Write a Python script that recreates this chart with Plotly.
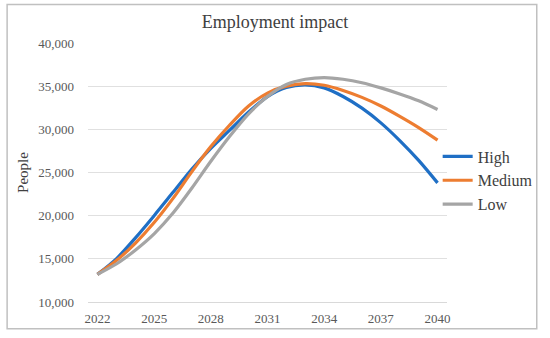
import plotly.graph_objects as go

years = list(range(2022, 2041))
high = [13200, 15000, 17400, 20000, 22700, 25400, 27800, 29900, 32000, 33800,
        34850, 35150, 34800, 33800, 32450, 30750, 28700, 26400, 23800]
medium = [13200, 14800, 16800, 19200, 22000, 25100, 28000, 30500, 32700, 34200,
          35000, 35300, 35100, 34500, 33700, 32700, 31500, 30200, 28750]
low = [13200, 14400, 16000, 17900, 20300, 23200, 26300, 29200, 31800, 33800,
       35200, 35800, 36000, 35800, 35400, 34800, 34100, 33300, 32300]
tick_years = [2022, 2025, 2028, 2031, 2034, 2037, 2040]
series = [("High", high, "#1f6fc5"), ("Medium", medium, "#ed7d31"), ("Low", low, "#a5a5a5")]

fig = go.Figure()
for name, vals, color in series:
    fig.add_trace(go.Scatter(x=years, y=vals, name=name, mode="lines",
                             line=dict(color=color, width=3.2, shape="spline", smoothing=0.8)))

font = "Liberation Serif"
fig.update_layout(
    width=550, height=338,
    margin=dict(l=88, r=98, t=43, b=33),
    paper_bgcolor="white", plot_bgcolor="white",
    font=dict(family=font, color="#595959", size=12),
    title=dict(text="Employment impact", x=0.5, xref="container", y=0.935, yref="container",
               yanchor="middle", xanchor="center",
               font=dict(family=font, size=18, color="#404040")),
    xaxis=dict(range=[2021.5, 2040.5], tickvals=tick_years, showgrid=False,
               showline=True, linecolor="#d9d9d9", ticks="", zeroline=False,
               ticklabelstandoff=4,
               tickfont=dict(family=font, size=13, color="#595959")),
    yaxis=dict(range=[10000, 40000], dtick=5000, tickformat=",", showgrid=True,
               gridcolor="#e0e0e0", zeroline=False, showline=False, ticks="",
               ticklabelstandoff=13,
               title=dict(text="People", font=dict(family=font, size=15, color="#404040"), standoff=6),
               tickfont=dict(family=font, size=13, color="#595959")),
    legend=dict(x=0.974, y=0.469, yanchor="middle", xanchor="left",
                font=dict(family=font, size=16, color="#404040"), tracegroupgap=0,
                itemwidth=30, bgcolor="rgba(0,0,0,0)"),
    shapes=[dict(type="rect", xref="paper", yref="paper", x0=-0.2253, x1=1.25,
                 y0=-0.103, y1=1.1489, line=dict(color="#c0c0c0", width=1.5))],
)
fig.write_html("out.html", config={"displayModeBar": False},
               post_script="document.body.style.margin='0';")
